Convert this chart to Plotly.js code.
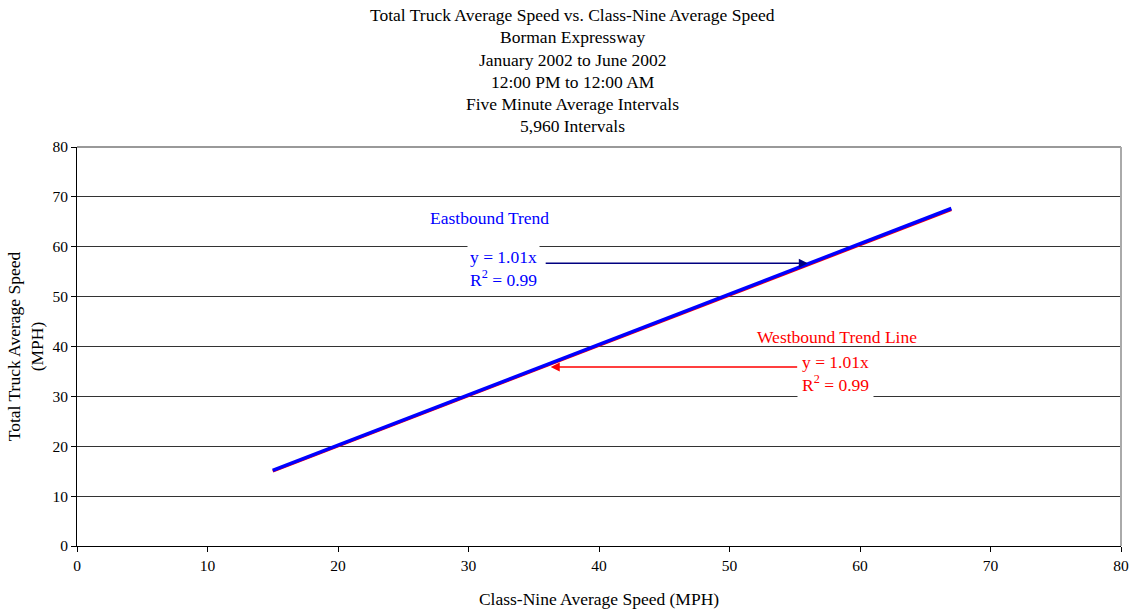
<!DOCTYPE html>
<html>
<head>
<meta charset="utf-8">
<script src="https://cdn.plot.ly/plotly-3.0.1.min.js"></script>
<style>html,body{margin:0;padding:0;background:#fff;}#chart{width:1139px;height:609px;}</style>
</head>
<body>
<div id="chart"></div>
<script>
// Data
const eastX = [15, 67];
const eastY = [15.15, 67.67];
const westX = [15, 67];
const westY = [15.0, 67.45];

const titleLines = [
  "Total Truck Average Speed vs. Class-Nine Average Speed",
  "Borman Expressway",
  "January 2002 to June 2002",
  "12:00 PM to 12:00 AM",
  "Five Minute Average Intervals",
  "5,960 Intervals"
];
const xTitle = "Class-Nine Average Speed (MPH)";
const yTitleLines = ["Total Truck Average Speed", "(MPH)"];
const eastLabel = "Eastbound Trend";
const westLabel = "Westbound Trend Line";
const eqText = "y = 1.01x<br>R<sup>2</sup> = 0.99";

// Arrow endpoints (data units): [tailX, tailY, tipX, tipY]
const eastArrow = [35.8, 56.7, 56.0, 56.7];
const westArrow = [55.3, 35.9, 36.3, 35.9];

const FONT = "Liberation Serif, Times New Roman, serif";

const traces = [
  {x: westX, y: westY, type: 'scatter', mode: 'lines', name: 'Westbound',
   line: {color: '#ff0000', width: 3}, hoverinfo: 'skip'},
  {x: eastX, y: eastY, type: 'scatter', mode: 'lines', name: 'Eastbound',
   line: {color: '#0000ff', width: 3.5}, hoverinfo: 'skip'}
];

// Title lines as stacked annotations above the plot (pixel rows from the top)
const titleRows = [15, 37.5, 59.5, 81.5, 103.5, 125.5];
const plotTop = 147, plotH = 399;
const titleAnns = titleLines.map((t, i) => ({
  text: t, showarrow: false,
  xref: 'paper', yref: 'paper',
  x: 0.475, xanchor: 'center',
  y: 1 + (plotTop - titleRows[i]) / plotH, yanchor: 'middle',
  font: {family: FONT, size: 17.5, color: '#000'}
}));

const layout = {
  width: 1139, height: 609,
  margin: {l: 77, r: 18, t: 147, b: 63},
  paper_bgcolor: '#ffffff', plot_bgcolor: '#ffffff',
  showlegend: false,
  font: {family: FONT, color: '#000000', size: 15},
  xaxis: {
    range: [0, 80], dtick: 10, tick0: 0,
    showgrid: false, zeroline: false,
    showline: true, linecolor: '#000', linewidth: 1,
    ticks: 'outside', ticklen: 5, tickcolor: '#000',
    tickfont: {family: FONT, size: 15.5, color: '#000'},
    title: {text: xTitle, font: {family: FONT, size: 17.5, color: '#000'}, standoff: 20},
    fixedrange: true
  },
  yaxis: {
    range: [0, 80], dtick: 10, tick0: 0,
    showgrid: true, gridcolor: '#333333', gridwidth: 1,
    zeroline: false,
    showline: true, linecolor: '#000', linewidth: 1,
    ticks: 'outside', ticklen: 5, tickcolor: '#000',
    tickfont: {family: FONT, size: 15.5, color: '#000'},
    title: {text: yTitleLines.join('<br>'), font: {family: FONT, size: 17.5, color: '#000'}, standoff: 4},
    fixedrange: true
  },
  shapes: [
    {type: 'line', xref: 'paper', yref: 'paper', x0: 0, x1: 1, y0: 1, y1: 1,
     line: {color: '#999999', width: 2}},
    {type: 'line', xref: 'paper', yref: 'paper', x0: 1, x1: 1, y0: 0, y1: 1,
     line: {color: '#aaaaaa', width: 2}}
  ],
  annotations: titleAnns.concat([
    {x: 31.6, y: 65.7, xref: 'x', yref: 'y', text: eastLabel, showarrow: false,
     font: {family: FONT, size: 17.5, color: '#0000ff'}},
    {x: 32.7, y: 55.7, xref: 'x', yref: 'y', text: eqText, showarrow: false,
     align: 'left', bgcolor: '#ffffff', borderpad: 2,
     font: {family: FONT, size: 17.5, color: '#0000ff'}},
    {x: eastArrow[2], y: eastArrow[3], ax: eastArrow[0], ay: eastArrow[1],
     xref: 'x', yref: 'y', axref: 'x', ayref: 'y', text: '', showarrow: true,
     arrowhead: 2, arrowsize: 1.2, arrowwidth: 1.5, arrowcolor: '#000080'},
    {x: 58.2, y: 41.9, xref: 'x', yref: 'y', text: westLabel, showarrow: false,
     font: {family: FONT, size: 17.5, color: '#ff0000'}},
    {x: 58.1, y: 34.5, xref: 'x', yref: 'y', text: eqText, showarrow: false,
     align: 'left', bgcolor: '#ffffff', borderpad: 4,
     font: {family: FONT, size: 17.5, color: '#ff0000'}},
    {x: westArrow[2], y: westArrow[3], ax: westArrow[0], ay: westArrow[1],
     xref: 'x', yref: 'y', axref: 'x', ayref: 'y', text: '', showarrow: true,
     arrowhead: 2, arrowsize: 1.2, arrowwidth: 1.5, arrowcolor: '#ff0000'}
  ])
};

Plotly.newPlot('chart', traces, layout, {staticPlot: true, displayModeBar: false});
</script>
</body>
</html>
